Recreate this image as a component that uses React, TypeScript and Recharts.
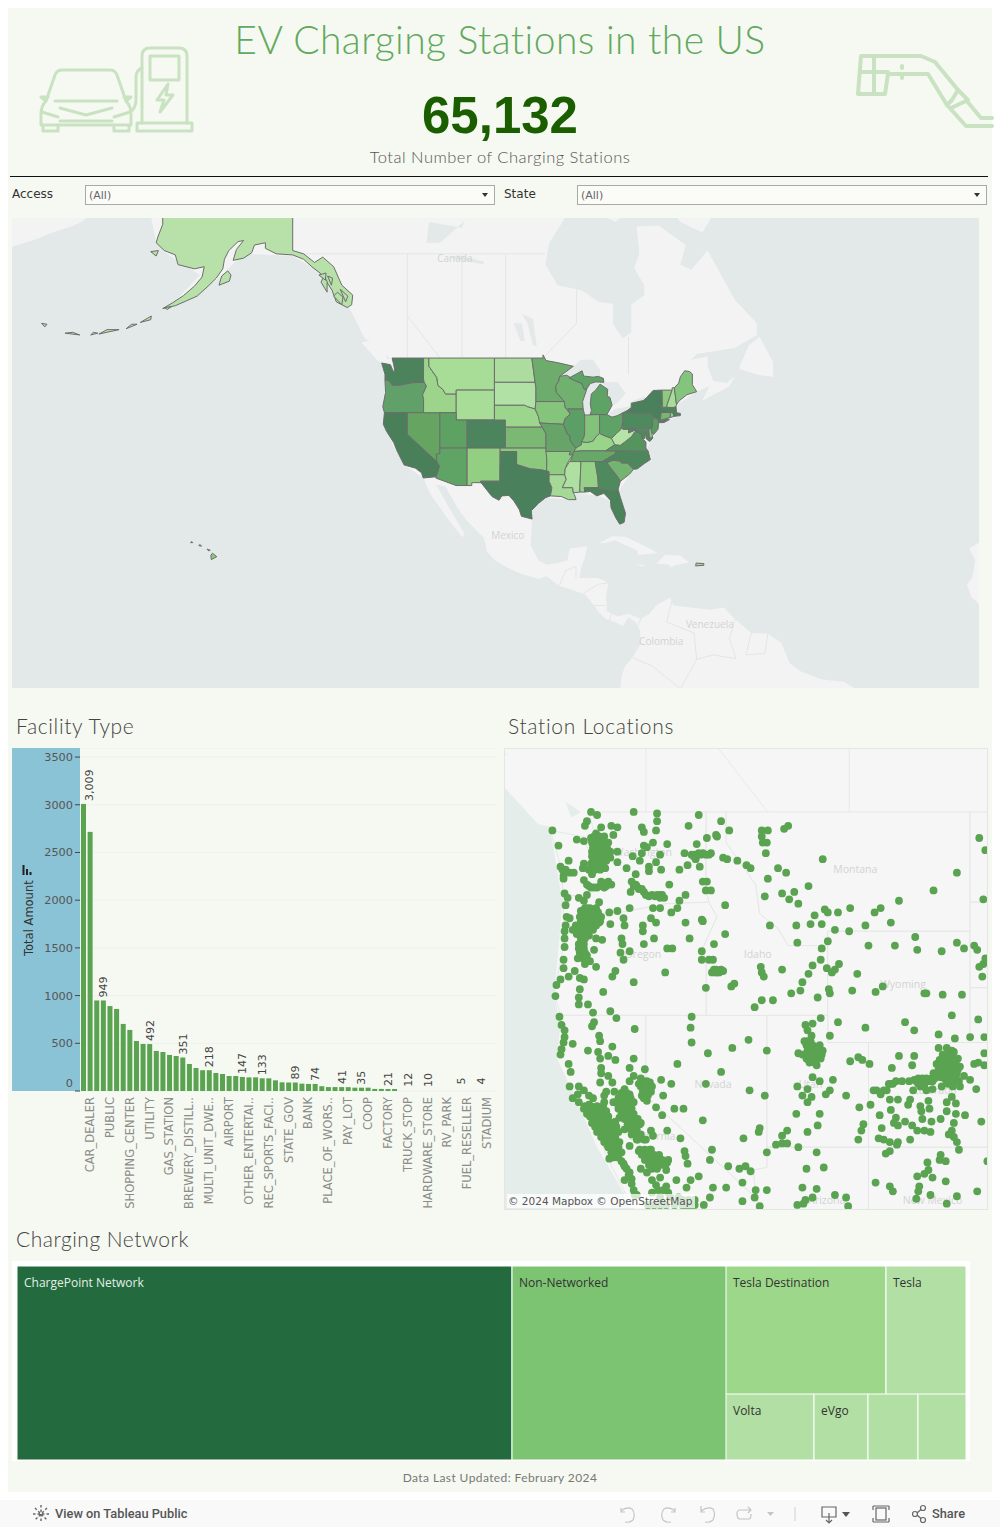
import React from 'react';
import {
  Bar,
  BarChart,
  CartesianGrid,
  LabelList,
  Scatter,
  ScatterChart,
  Treemap,
  XAxis,
  YAxis,
} from 'recharts';

type Ring = number[][];

// facility types, sorted by amount; only every third one gets a tick label
const facilityNames = [
  'HOTEL', 'CAR_DEALER', 'OFFICE_BLDG', 'PARKING_GARAGE', 'PUBLIC', 'MUNI_GOV', 'GROCERY', 'SHOPPING_CENTER', 'WORKPLACE',
  'PARKING_LOT', 'UTILITY', 'COLLEGE_CAMPUS', 'HOSPITAL', 'GAS_STATION', 'RETAIL', 'CONVENIENCE_STORE',
  'BREWERY_DISTILL..', 'LIBRARY', 'PARK', 'MULTI_UNIT_DWE..', 'RESTAURANT', 'SCHOOL', 'AIRPORT', 'FED_GOV', 'OTHER',
  'OTHER_ENTERTAI..', 'STREET_PARKING', 'MUSEUM', 'REC_SPORTS_FACI..', 'FLEET_GARAGE', 'INN', 'STATE_GOV', 'NATL_PARK',
  'CAMPGROUND', 'BANK', 'SHOPPING_MALL', 'REST_STOP', 'PLACE_OF_WORS..', 'TRAVEL_CENTER', 'PHARMACY', 'PAY_LOT', 'B_AND_B',
  'AUTO_REPAIR', 'COOP', 'CONVENTION_CENTER', 'CARWASH', 'FACTORY', 'PAY_GARAGE', 'STORAGE', 'TRUCK_STOP', 'ARENA',
  'TNC', 'HARDWARE_STORE', 'MIL_BASE', 'PRISON', 'RV_PARK', 'MOTOR_POOL', 'REFINERY', 'FUEL_RESELLER',
  'FIRE_STATION', 'RENTAL_CAR_RETURN', 'STADIUM', 'RESEARCH_FACILITY',
];
const facilityAmounts = [
  3009, 2716, 949, 949, 890, 860, 703, 640, 524, 493, 492, 420, 409, 378, 367, 351, 283, 241, 218, 218, 189, 178, 157, 157,
  147, 143, 143, 133, 133, 112, 91, 89, 89, 77, 74, 74, 50, 41, 41, 41, 40, 35, 35, 35, 22, 22, 21, 21, 12, 12, 12, 10, 10,
  10, 8, 5, 5, 5, 5, 4, 4, 4, 3,
];
const facilityTicks = [
  'CAR_DEALER', 'PUBLIC', 'SHOPPING_CENTER', 'UTILITY', 'GAS_STATION', 'BREWERY_DISTILL..', 'MULTI_UNIT_DWE..', 'AIRPORT',
  'OTHER_ENTERTAI..', 'REC_SPORTS_FACI..', 'STATE_GOV', 'BANK', 'PLACE_OF_WORS..', 'PAY_LOT', 'COOP', 'FACTORY',
  'TRUCK_STOP', 'HARDWARE_STORE', 'RV_PARK', 'FUEL_RESELLER', 'STADIUM',
];
const labelledBars = [0, 3, 10, 15, 19, 24, 27, 32, 35, 39, 42, 46, 49, 52, 57, 60];
const amountTicks = [0, 500, 1000, 1500, 2000, 2500, 3000, 3500];

const networkMain = [
  { name: 'ChargePoint Network', size: 33870 },
  { name: 'Non-Networked', size: 14600 },
];
const networkTesla = [
  { name: 'Tesla Destination', size: 7240 },
  { name: 'Tesla', size: 3620 },
];
const networkSmall = [
  { name: 'Volta', size: 2000 },
  { name: 'eVgo', size: 1220 },
  { name: 'Blink Network', size: 1130 },
  { name: 'EV Connect', size: 1100 },
];

// state outlines, lon/lat
const stateShapes: Record<string, Ring> = {
  WA: [[-124.7,48.4],[-123.1,48.2],[-122.6,47.4],[-122.3,47.4],[-122.5,48.2],[-122.8,49],[-117.03,49],[-117.04,46.4],[-116.9,46],[-119,45.95],[-121.2,45.65],[-122.7,45.6],[-123.4,46.2],[-124.1,46.3],[-124.1,47]],
  OR: [[-124.1,46.3],[-123.4,46.2],[-122.7,45.6],[-121.2,45.65],[-119,45.95],[-116.9,46],[-116.5,45.5],[-117.2,44.4],[-117.03,43.8],[-117.03,42],[-124.2,42],[-124.5,42.8],[-124,44.7]],
  CA: [[-124.2,42],[-120,42],[-120,39],[-114.6,35],[-114.1,34.3],[-114.7,32.7],[-117.1,32.5],[-117.4,33.3],[-118.5,34],[-120.6,34.5],[-121.9,36.6],[-122.5,37.8],[-123.8,39.4],[-124.4,40.4]],
  NV: [[-120,42],[-114.04,42],[-114.04,36.2],[-114.7,36.1],[-114.6,35],[-120,39]],
  ID: [[-117.03,49],[-116.05,49],[-116.05,48],[-114.6,46.6],[-114.4,45.6],[-113.5,45.1],[-113,44.5],[-111.05,44.5],[-111.05,42],[-117.03,42],[-117.03,43.8],[-117.2,44.4],[-116.5,45.5],[-116.9,46],[-117.04,46.4]],
  MT: [[-116.05,49],[-104.05,49],[-104.05,45],[-111.05,45],[-111.05,44.5],[-113,44.5],[-113.5,45.1],[-114.4,45.6],[-114.6,46.6],[-116.05,48]],
  WY: [[-111.05,45],[-104.05,45],[-104.05,41],[-111.05,41]],
  UT: [[-114.04,42],[-111.05,42],[-111.05,41],[-109.05,41],[-109.05,37],[-114.04,37]],
  CO: [[-109.05,41],[-102.05,41],[-102.05,37],[-109.05,37]],
  AZ: [[-114.7,36.1],[-114.04,36.2],[-114.04,37],[-109.05,37],[-109.05,31.33],[-111.07,31.33],[-114.8,32.5],[-114.7,32.7],[-114.1,34.3],[-114.6,35]],
  NM: [[-109.05,37],[-103,37],[-103.05,32],[-106.6,32],[-106.5,31.78],[-108.2,31.78],[-108.2,31.33],[-109.05,31.33]],
  ND: [[-104.05,49],[-97.2,49],[-96.6,46],[-104.05,46]],
  SD: [[-104.05,46],[-96.6,46],[-96.45,45.3],[-96.45,43.5],[-96.6,42.5],[-98,42.8],[-98.5,43],[-104.05,43]],
  NE: [[-104.05,43],[-98.5,43],[-98,42.8],[-96.6,42.5],[-96,41.5],[-95.3,40],[-102.05,40],[-102.05,41],[-104.05,41]],
  KS: [[-102.05,40],[-95.3,40],[-94.62,39.1],[-94.62,37],[-102.05,37]],
  OK: [[-103,37],[-94.62,37],[-94.45,35.4],[-94.48,33.6],[-96,33.8],[-97.5,33.9],[-100,34.56],[-100,36.5],[-103,36.5]],
  TX: [[-106.6,32],[-103.05,32],[-103,36.5],[-100,36.5],[-100,34.56],[-97.5,33.9],[-96,33.8],[-94.48,33.6],[-94.04,33.5],[-94.04,32],[-93.52,31],[-93.8,29.7],[-94.7,29.4],[-96,28.5],[-97.3,27.3],[-97.15,25.95],[-99.1,26.4],[-99.5,27.5],[-100.5,28.9],[-101.4,29.77],[-102.7,29.7],[-103.2,29],[-104.5,29.6],[-106.5,31.78]],
  MN: [[-97.2,49],[-95.15,49],[-95.15,49.38],[-94.6,48.7],[-92.5,48.45],[-89.6,48],[-92.1,46.75],[-92.3,46.1],[-92.8,45.6],[-92.75,44.75],[-91.25,43.5],[-96.45,43.5],[-96.45,45.3],[-96.6,46]],
  IA: [[-96.45,43.5],[-91.25,43.5],[-91.1,42.7],[-90.15,41.8],[-91.1,41.2],[-91.4,40.4],[-95.77,40.58],[-96,41.5],[-96.6,42.5]],
  MO: [[-95.77,40.58],[-91.4,40.4],[-90.7,39],[-90.2,38.8],[-90.2,38.2],[-89.5,37.3],[-89.1,37],[-89.5,36.5],[-89.7,36],[-90.37,36],[-90.15,36.5],[-94.62,36.5],[-94.62,39.1],[-95.3,40]],
  AR: [[-94.62,36.5],[-90.15,36.5],[-90.37,36],[-89.7,36],[-90.6,34.9],[-91.1,33.9],[-91.17,33],[-94.04,33],[-94.04,33.5],[-94.48,33.6],[-94.45,35.4]],
  LA: [[-94.04,33],[-91.17,33],[-90.9,32.3],[-91.6,31],[-89.73,31],[-89.6,30.2],[-89.4,29.9],[-89.1,29.1],[-90.5,29.1],[-91.8,29.6],[-93.8,29.7],[-93.52,31],[-94.04,32]],
  WI: [[-92.1,46.75],[-90.8,46.9],[-89,46.1],[-88.1,45.9],[-87.6,45.1],[-87.1,45.2],[-87.9,43.5],[-87.8,42.5],[-90.64,42.5],[-91.1,42.7],[-91.25,43.5],[-92.75,44.75],[-92.8,45.6],[-92.3,46.1]],
  IL: [[-90.64,42.5],[-87.8,42.5],[-87.53,41.7],[-87.53,39.3],[-87.6,38.7],[-88.1,37.5],[-89.1,37],[-89.5,37.3],[-90.2,38.2],[-90.2,38.8],[-90.7,39],[-91.4,40.4],[-91.1,41.2],[-90.15,41.8]],
  IN: [[-87.53,41.7],[-87,41.7],[-84.8,41.75],[-84.8,39.1],[-85.4,38.7],[-86,38],[-87.1,37.8],[-88.1,37.9],[-87.6,38.7],[-87.53,39.3]],
  MI: [[-86.5,41.76],[-84.8,41.75],[-83.45,41.73],[-82.5,43],[-82.9,44.05],[-83.4,44.2],[-83.3,45.1],[-84.7,45.78],[-85.5,45],[-86.3,44.5],[-86.5,43.2],[-86.3,42.3]],
  MIU: [[-90.4,46.55],[-88.9,47.1],[-88,47.45],[-87.7,46.8],[-86,46.65],[-85,46.75],[-84.1,46.5],[-84,46],[-85.5,46.05],[-86.5,45.85],[-87.1,45.2],[-87.6,45.1],[-88.1,45.9],[-89,46.1]],
  OH: [[-84.8,41.75],[-83.45,41.73],[-82.5,41.4],[-81.5,41.6],[-80.52,42],[-80.52,40.64],[-80.85,39.7],[-81.7,39.1],[-82.6,38.4],[-84,38.8],[-84.8,39.1]],
  KY: [[-89.5,36.5],[-89.1,37],[-88.1,37.5],[-88.1,37.9],[-87.1,37.8],[-86,38],[-85.4,38.7],[-84.8,39.1],[-84,38.8],[-82.6,38.4],[-82,37.5],[-83.68,36.6],[-88,36.6]],
  TN: [[-90.15,35],[-89.7,36],[-89.5,36.5],[-88,36.6],[-83.68,36.6],[-81.68,36.59],[-82,36.1],[-84.3,35],[-88.2,35]],
  MS: [[-91.17,33],[-91.1,33.9],[-90.3,35],[-88.2,35],[-88.4,31],[-88.4,30.3],[-89.6,30.2],[-89.73,31],[-91.6,31],[-90.9,32.3]],
  AL: [[-88.2,35],[-85.6,35],[-85.1,32.5],[-85,31],[-87.6,31],[-87.5,30.3],[-88.4,30.3],[-88.4,31]],
  GA: [[-85.6,35],[-83.1,35],[-83.35,34.7],[-81.4,32.6],[-81,32],[-81.4,30.7],[-82,30.4],[-84.85,30.7],[-85,31],[-85.1,32.5]],
  FL: [[-87.6,31],[-85,31],[-84.85,30.7],[-82,30.4],[-81.4,30.7],[-81,29.5],[-80.05,26.9],[-80.3,25.4],[-81.1,25.1],[-81.8,26.1],[-82.7,27.8],[-82.8,29],[-84,30.1],[-85.3,29.7],[-86.5,30.4],[-87.5,30.3]],
  SC: [[-83.35,34.7],[-83.1,35],[-82.4,35.2],[-81,35.1],[-80.8,34.8],[-79.7,34.8],[-78.55,33.85],[-79.3,33.1],[-80.9,32.05],[-81,32],[-81.4,32.6]],
  NC: [[-84.3,35],[-82,36.1],[-81.68,36.59],[-75.9,36.55],[-75.5,35.3],[-76.6,34.7],[-77.9,33.9],[-78.55,33.85],[-79.7,34.8],[-80.8,34.8],[-81,35.1],[-82.4,35.2],[-83.1,35]],
  VA: [[-83.68,36.6],[-81.68,36.59],[-75.9,36.55],[-76.3,37],[-76.3,37.9],[-77,38.4],[-77.05,38.85],[-77.7,39.3],[-78.3,39.4],[-78.9,38.7],[-80,38],[-81,37.4],[-82,37.5]],
  WV: [[-82.6,38.4],[-81.7,39.1],[-80.85,39.7],[-80.52,40.64],[-80.52,39.72],[-79.48,39.72],[-79.48,39.2],[-78.3,39.6],[-77.72,39.32],[-78.3,39.4],[-78.9,38.7],[-80,38],[-81,37.4],[-82,37.5]],
  PA: [[-80.52,42],[-79.76,42.27],[-79.76,42],[-75.35,42],[-74.7,41.36],[-75.1,40.9],[-75.1,40],[-75.4,39.8],[-80.52,39.72],[-80.52,40.64]],
  NY: [[-79.76,42.27],[-79,42.7],[-79,43.27],[-76.8,43.63],[-76.2,44],[-75,44.95],[-73.35,45],[-73.3,43.6],[-73.5,42],[-73.65,41],[-74,40.75],[-74,41],[-74.7,41.36],[-75.35,42],[-79.76,42]],
  NYL: [[-74,40.6],[-73.7,40.9],[-72.3,41.15],[-72,41.05],[-73,40.65]],
  NJ: [[-74.7,41.36],[-74,41],[-74,40.5],[-74.1,39.7],[-74.9,38.95],[-75.5,39.5],[-75.1,40],[-75.1,40.9]],
  DE: [[-75.8,39.72],[-75.4,39.8],[-75.05,38.45],[-75.7,38.46]],
  MD: [[-79.48,39.72],[-75.8,39.72],[-75.7,38.46],[-75.05,38.45],[-75.6,37.95],[-76.2,38.3],[-76.4,39.2],[-76.5,38.4],[-77,38.4],[-77.05,38.85],[-77.7,39.3],[-78.3,39.6],[-79.48,39.2]],
  CT: [[-73.5,42.05],[-71.8,42.02],[-71.85,41.32],[-73.65,41]],
  RI: [[-71.8,42.02],[-71.38,42.02],[-71.15,41.5],[-71.85,41.32]],
  MA: [[-73.5,42.05],[-73.27,42.75],[-71.3,42.7],[-70.8,42.85],[-70.7,42],[-70,41.9],[-70,41.6],[-71.15,41.5],[-71.38,42.02]],
  VT: [[-73.35,45],[-71.5,45],[-72.45,43],[-72.45,42.73],[-73.27,42.75],[-73.3,43.6]],
  NH: [[-71.5,45.3],[-71.1,45.3],[-70.7,43.1],[-70.8,42.85],[-71.3,42.7],[-72.45,42.73],[-72.45,43],[-71.5,45]],
  ME: [[-71.1,45.3],[-70.3,45.9],[-70,46.7],[-69.2,47.45],[-68.3,47.35],[-67.8,47.05],[-67.8,45.7],[-67,44.8],[-68.8,44.4],[-70.2,43.6],[-70.7,43.1]],
  AK: [[-164.8,62.6],[-165.7,61.5],[-166,61],[-164.5,60.3],[-162.5,59.9],[-162,59],[-159,58.6],[-157.2,58.8],[-157.6,57.8],[-159,56.9],[-161,55.95],[-163,55.2],[-164.8,54.6],[-162.5,54.9],[-160.5,55.4],[-158.5,55.9],[-156.5,56.9],[-155,57.7],[-153.8,58.6],[-153.5,59.5],[-152.7,60.3],[-151,61.1],[-150,61.2],[-151.3,60.4],[-151.9,59.4],[-150,59.6],[-148.5,60.1],[-148,60.8],[-146,61],[-146,60.5],[-144,60],[-141,59.9],[-139,59.5],[-137.5,58.8],[-136,58.2],[-135,57.5],[-133.8,56.5],[-133,55.3],[-131,54.7],[-130.2,55],[-130,56],[-132,57],[-133.5,58.8],[-135.5,59.7],[-137,59.2],[-139,60],[-141,60.3],[-141,72],[-165,72]],
  AKK: [[-154.5,57],[-152.6,57.4],[-152.3,58],[-152.9,58.4],[-154,57.9]],
  AKN: [[-167,60.2],[-166,59.8],[-165.6,60.3]],
  AKW: [[-133.5,55.9],[-132,55],[-131.8,55.8],[-132.8,56.3]],
  AKB: [[-135.8,57.3],[-134.7,56.3],[-134.7,57.4],[-135.3,57.9]],
  AKC: [[-136.2,58],[-135,57.5],[-134.9,58.2]],
  AKZ: [[-134.6,57.9],[-133.9,57],[-133.7,57.7]],
  AKR: [[-132.3,56.6],[-131.3,55.3],[-130.9,55.9]],
  AK0: [[-164.5,54.7],[-163.2,54.8],[-164,54.5]],
  AK1: [[-166.9,53.8],[-168.9,53.1],[-167,53.4]],
  AK2: [[-169.5,52.9],[-171.5,52.4],[-170.5,52.9]],
  AK3: [[-172.8,52.3],[-176.5,51.8],[-175,52.3]],
  AK4: [[-176.7,51.9],[-178,51.7],[-177.5,52]],
  AK5: [[-180,51.7],[-182.7,51.9],[-181.3,52]],
  AK6: [[-186,52.9],[-187,53],[-186.4,52.6]],
  HI: [[-155.9,19.1],[-154.9,19.6],[-155.7,20.2],[-156,19.8]],
  HI2: [[-156.7,20.9],[-156.1,20.7],[-156.4,20.6]],
  HI3: [[-158.2,21.5],[-157.7,21.4],[-158,21.7]],
  HI4: [[-159.7,22],[-159.3,22],[-159.5,22.2]],
  PR: [[-67.2,18],[-65.7,18.1],[-65.7,18.4],[-67.1,18.5]],
};
const akGreen = '#b7e1a8';
const stateColors: Record<string, string> = {
  WA: '#4c825c', OR: '#62a06a', CA: '#4a8059', NV: '#66a561', ID: '#9bd48a', MT: '#a8dd98', WY: '#a8dd98', UT: '#5ea263',
  CO: '#4c855d', AZ: '#5fa365', NM: '#92cf82', ND: '#addd9e', SD: '#b2e1a5', NE: '#9cd68d', KS: '#7ab874', OK: '#8ac97e',
  TX: '#4a805b', MN: '#6dac6c', IA: '#85c47b', MO: '#66a567', AR: '#8fcd83', LA: '#a5da96', WI: '#71b16f', IL: '#5c9f66',
  IN: '#83c27a', OH: '#5ea265', MI: '#5fa266', MIU: '#5fa266', KY: '#99d48b', TN: '#67a768', MS: '#aee0a2', AL: '#97d188',
  GA: '#4f8a5e', FL: '#4a825a', SC: '#74b370', NC: '#4e875b', VA: '#55935f', WV: '#b6e4a6', PA: '#4f8a5e', NY: '#4a805b', NYL: '#4a805b',
  NJ: '#5a9b62', DE: '#8ec880', MD: '#4f8a5c', CT: '#78b772', RI: '#93d088', MA: '#4b835b', VT: '#8cca80', NH: '#a8dd98',
  ME: '#85c47c', AK: akGreen, AKK: akGreen, AKN: akGreen, AKW: akGreen, AKB: akGreen, AKC: akGreen, AKZ: akGreen, AKR: akGreen,
  AK0: akGreen, AK1: akGreen, AK2: akGreen, AK3: akGreen, AK4: akGreen, AK5: akGreen, AK6: akGreen,
  HI: '#8ac97e', HI2: '#8ac97e', HI3: '#8ac97e', HI4: '#8ac97e', PR: '#a5d596',
};

// base map land and water, lon/lat
const landShapes: Ring[] = [
  [[-168,72],[-168,65.5],[-166,61],[-164,60],[-158,58],[-164,54.5],[-155,57.5],[-150,60],[-141,59.8],[-135,58],[-131,55],[-130,54],[-128,51.5],[-125.5,50],[-123.2,49],[-124.7,48.4],[-124.1,46],[-124.5,42.8],[-123.8,39.5],[-122.4,37],[-120.6,34.5],[-117.1,32.5],[-115.8,30],[-114,27.8],[-112.2,25.5],[-109.9,22.9],[-109.5,23.5],[-111,25.8],[-112.8,28.5],[-114.7,31.5],[-113,31.2],[-111,28],[-109.2,25.8],[-106,22.8],[-105.4,20.5],[-104,19],[-101.5,17.6],[-99,16.6],[-96,15.7],[-94.5,16.2],[-92.2,14.5],[-90,13.8],[-87.5,13],[-85.8,11],[-85,9.8],[-83.6,8.5],[-82.5,8.2],[-80.5,7.3],[-79.5,8.8],[-78.2,8],[-77.4,6.5],[-77.3,4],[-78.8,1.5],[-80.1,0],[-80.8,-2],[-81,-4.5],[-81,-8],[-35,-8],[-35,-5.3],[-37,-4.8],[-40,-2.9],[-44,-2.5],[-48,-1],[-50,0.5],[-51.5,4.2],[-54,5.9],[-57,6],[-60,8.5],[-62,10.6],[-64.5,10.2],[-68,10.6],[-71.3,11],[-71.8,12.4],[-74.5,11],[-75.6,9.5],[-77.2,8.6],[-79.5,9.5],[-81.5,9],[-83.5,10],[-83.6,12.5],[-83.2,15],[-85,15.9],[-88.5,15.9],[-88.2,17.5],[-87.5,19.5],[-87,21.4],[-90.3,21],[-90.7,19],[-92,18.6],[-94.5,18.2],[-96,19],[-97.4,21.5],[-97.2,25],[-97.4,27.5],[-94.7,29.4],[-90,29.1],[-89,30.2],[-85,29.7],[-83,29],[-82,26],[-81,25.1],[-80.1,26],[-81.3,30.5],[-79,33.3],[-76,35],[-76,37],[-74,40.3],[-70.5,41.5],[-70.8,43],[-67,44.8],[-64.7,45.5],[-66,43.6],[-61,45.5],[-60,46.8],[-61.5,45.9],[-64,46.2],[-65,48],[-65,49.2],[-68,48.8],[-71,46.9],[-67,49.5],[-60,50.2],[-56,51.7],[-56,53],[-60,55.5],[-62,57.5],[-65,60.3],[-68,58.5],[-70,59],[-69,60.8],[-74,62.5],[-78,62.4],[-77.5,60],[-78.5,58.7],[-76.6,57],[-76.6,56],[-79,55],[-79,52],[-80.5,51.3],[-82.3,52.9],[-82.3,55.1],[-85,55.3],[-88,56.5],[-92.5,57],[-94.7,59],[-94,61],[-92,62.5],[-90,64],[-90,80],[-168,80]],
  [[-128.4,50.8],[-125.3,48.6],[-123.4,48.35],[-124,49.4],[-125.6,50.4],[-127.5,51]],
  [[-72,64],[-70,62.8],[-66,61.9],[-64.5,63],[-65,66],[-72,66]],
  [[-84,64],[-80.5,63.2],[-82,62.8],[-85,63.5]],
  [[-195,60.2],[-188,61.3],[-185,61.9],[-181,62.5],[-179,63],[-179,70],[-195,70]],
  [[-84.9,21.9],[-82.5,23.1],[-80,23],[-75,20.7],[-74.2,20.2],[-77.7,19.9],[-78,20.7],[-81,22],[-82,22.4],[-84,21.9]],
  [[-74.4,18.4],[-72.8,19.9],[-70,19.8],[-68.4,18.6],[-71,18.1],[-71.7,17.7],[-72,18.2]],
  [[-78.3,18.3],[-76.3,18.1],[-77,17.9]],
  [[-59.3,47.7],[-55.5,46.9],[-53,46.7],[-53,48.5],[-55.5,51.5],[-57.5,50.5]],
  [[-17.1,21],[-16,19],[-16.5,16],[-17.5,14.7],[-16.7,12.5],[-15,11],[-13,9],[-10,10],[-10,25]],
];
const waterShapes: Ring[] = [
  [[-92,46.7],[-89.5,48],[-88.2,48.8],[-86,48.8],[-84.7,47.5],[-84.7,46.5],[-86.5,46.5],[-88,47.3],[-90.5,46.6]],
  [[-87.8,42],[-86.5,41.7],[-86.3,43.5],[-85.5,45],[-84.9,45.9],[-87,45.9],[-87.9,44.5]],
  [[-84.5,46],[-81.5,46],[-80,44.6],[-81.7,43.2],[-82.5,43],[-83.5,44],[-83.4,45.2]],
  [[-83.4,41.7],[-82,42.5],[-79,42.9],[-80,42],[-81.5,41.5]],
  [[-79.7,43.3],[-76.5,44.2],[-76.2,43.5],[-78,43.3]],
  [[-99,54],[-97,53.5],[-96.3,50.5],[-97,50.5],[-98,53]],
  [[-100.5,53],[-99,53],[-98.5,51],[-99.3,51]],
  [[-116,62.8],[-110,62.3],[-109.5,62.9],[-114,61],[-116.5,61]],
  [[-112,59.6],[-106,59],[-106,59.3],[-111,59.9]],
];
const borderLines: Ring[] = [
  [[-120,49],[-120,60]],
  [[-110,49],[-110,60]],
  [[-102,49],[-102,60]],
  [[-141,60],[-94.7,60]],
  [[-95.15,49],[-89,53],[-89,57]],
  [[-79.5,47],[-79.5,51.5]],
  [[-120,53.8],[-114,49]],
  [[-92.2,14.5],[-91,17.2],[-89.1,17.9],[-89.1,15.9]],
  [[-87.7,13.2],[-85,14.8],[-83.2,15]],
  [[-85.8,11],[-83.7,11]],
  [[-83,8.3],[-82.6,9.5]],
  [[-77.2,8.6],[-77.8,7.2]],
  [[-71.5,12],[-72.5,8],[-67.5,6],[-67,1.2],[-70,-4.2]],
  [[-60,8.5],[-61,5],[-59.8,1.3],[-64,2],[-67,1.2]],
  [[-57,6],[-58,2],[-54.5,2.3],[-54,5.9]],
  [[-78.8,1.5],[-75.2,0],[-70,-4.2]],
];
const mapLabels = [
  { name: 'Canada', lon: -111.3, lat: 59.2 },
  { name: 'Mexico', lon: -101.6, lat: 22.7 },
  { name: 'Colombia', lon: -73.5, lat: 3.8 },
  { name: 'Venezuela', lon: -64.6, lat: 6.9 },
];
const stationLabels = [
  { name: 'Washington', lon: -120.15, lat: 47.55 },
  { name: 'Montana', lon: -109.7, lat: 47 },
  { name: 'Oregon', lon: -120.15, lat: 44.05 },
  { name: 'Idaho', lon: -114.5, lat: 44.05 },
  { name: 'Wyoming', lon: -107.35, lat: 43 },
  { name: 'Nevada', lon: -116.7, lat: 39.3 },
  { name: 'Utah', lon: -111.9, lat: 39.3 },
  { name: 'Colorado', lon: -105.8, lat: 39.05 },
  { name: 'California', lon: -119.7, lat: 37.3 },
  { name: 'Arizona', lon: -111.1, lat: 34.72 },
  { name: 'New Mexico', lon: -105.9, lat: 34.72 },
];

// station locations, lon/lat
const stationPoints: Ring = [
  [-124.6,48.4],[-124.3,47.9],[-122.7,49],[-122.4,48.9],[-122.9,48.7],[-123,48.55],[-122.2,48.5],[-122.45,48.3],[-123.4,48.1],[-123.05,48.05],[-122.7,48.15],[-122.3,48.1],[-122.05,48],[-122.5,47.9],[-122.25,47.8],[-121.9,47.8],[-122.65,47.7],[-122.3,47.65],[-122.05,47.6],[-122.55,47.5],[-122.25,47.45],[-121.75,47.5],[-122.7,47.3],[-122.35,47.2],[-122,47.15],[-123.05,47.3],[-123.1,47.15],[-122.65,46.95],[-123.05,46.75],[-122.9,46.6],[-122.55,46.5],[-122.2,46.7],[-121.85,46.7],[-122.05,46.5],[-121.7,46.6],
  [-123.8,47.4],[-124.2,47.2],[-124.05,46.9],[-123.75,47],[-123.55,47],[-124.05,46.8],[-121.7,48.55],[-121.4,48.5],[-121.6,48.25],[-121.4,47.7],[-121.4,47.35],[-120.65,47.55],[-120.95,47.15],[-120.5,46.95],[-120.3,47.4],[-120.2,47.65],[-120.1,47.9],[-119.95,47.85],[-119.65,48],[-118.95,47.95],[-119.3,47.6],[-119.5,47.35],[-119.85,47.2],[-119.85,47.05],[-119.25,47.1],[-120.2,48.5],[-120.1,48.35],[-119.5,48.4],[-119.45,48.7],[-119.45,48.95],[-120.6,49],[-117.9,48.55],[-117.4,48.9],[-116.3,48.7],[-115.9,48.4],[-117,48.15],[-116.55,48.25],[-116.5,48.2],[-117.5,47.95],[-118.1,47.65],[-117.6,47.6],[-117.4,47.65],[-117.2,47.65],[-116.8,47.65],[-117.55,47.45],[-117.95,47.25],[-118.35,47.1],[-117.35,47.2],[-116.2,47.5],[-116,47.45],[-115.5,47.4],[-115.05,47.25],[-114.85,47.15],
  [-114.3,48.4],[-114,48.4],[-114.3,48.2],[-114.25,48],[-114.05,48],[-114.1,47.65],[-113.2,48.45],[-113,48.55],[-113.5,47.15],[-113.1,47],[-114,46.8],[-111.3,47.45],[-112,46.55],[-104.7,47],[-103.6,48.15],[-103.3,47.75],[-105.85,46.4],[-103.4,46.1],[-107.55,46.05],[-114.15,46.2],[-113.3,46.3],[-112.7,46.35],[-112.95,46.1],[-112.5,45.95],[-108.45,45.8],[-108.75,45.65],[-109.95,45.8],[-110.55,45.65],[-111.2,45.75],[-111.05,45.65],[-111.7,45.55],[-112.6,45.2],[-111.9,45.25],[-111.35,45.25],[-110.7,45.05],[-110,45],[-109.2,45.2],[-107.95,45.3],[-113.9,45.2],[-112.55,44.6],[-111.05,44.65],[-111.35,44.4],[-111.4,44],
  [-120.7,46.7],[-120.5,46.6],[-120.35,46.45],[-120.75,46.35],[-120.1,46.35],[-119.85,46.2],[-119.55,46.2],[-119.3,46.25],[-119.1,46.15],[-118.85,46.6],[-118.05,46.25],[-118.35,46.05],[-118.45,45.8],[-118.75,45.65],[-117.2,46.7],[-117,46.7],[-117.05,46.4],[-116.8,46.4],[-116.1,45.9],
  [-124,46.3],[-123.85,46.15],[-123.95,45.9],[-123.3,46.15],[-123.05,46.05],[-122.9,46.25],[-122.3,46],[-123.2,45.7],[-122.9,45.8],[-122.8,45.55],[-123.05,45.45],[-122.7,45.45],[-122.9,45.3],[-122.55,45.3],[-123.1,45.2],[-123.4,45],[-123.05,45],[-122.8,44.85],[-122.3,45.3],[-121.75,45.25],[-121.8,45.65],[-121.4,45.7],[-121.1,45.45],[-120.8,45.8],[-121.05,45.2],[-123.9,45.5],[-123.75,45.45],[-123.95,45.2],[-124,45],[-124,44.75],[-124,44.45],[-124.05,44],[-124.05,43.7],[-123.3,44.55],[-123.05,44.55],[-123.35,44.05],[-123.1,44.05],[-122.9,44.15],[-123,43.85],[-122.75,43.95],[-122.45,43.75],[-122.55,44.35],[-122.45,44.75],[-122.15,44.7],[-121.2,44.75],[-121.15,44.55],[-120.8,44.3],[-121.25,44.25],[-121.1,44],[-121.65,43.4],[-121.5,43.6],[-120.6,43.2],[-122.1,42.85],[-123.5,43.6],[-123.8,43.4],[-124.2,43.3],[-124.4,43.1],[-124.45,42.7],[-123.25,43.35],[-123.05,43.3],[-123.25,42.95],[-123.3,42.65],[-123.3,42.4],[-122.85,42.4],[-122.6,42.1],[-121.75,42.15],[-121.45,41.9],
  [-120.15,45.2],[-120.15,45],[-119.75,45.45],[-119.5,45.3],[-119.65,45.8],[-119.3,45.8],[-120.1,44.55],[-119.6,44.75],[-118.95,44.4],[-118.7,44.4],[-118.05,45.3],[-117.25,45.4],[-117.2,45.35],[-117.85,44.75],[-116.1,44.9],[-116.65,44.55],[-117.25,44.3],[-117.25,44],[-116.9,44],[-116.7,44],[-119.05,43.55],[-116.65,43.65],[-116.5,43.55],[-116.3,43.65],[-116.2,43.6],[-117.05,43],[-115.8,43.05],[-115.65,43.15],
  [-114.35,43.75],[-114.3,43.55],[-114.2,43.4],[-113.3,43.65],[-112,43.5],[-111.8,43.8],[-112.3,43.2],[-112.4,42.9],[-112.85,42.8],[-111.55,42.65],[-113.75,42.55],[-114.3,42.55],[-114.65,42.3],
  [-111.1,43.7],[-110.85,43.55],[-110.7,43.65],[-110.5,43.85],[-109.6,43.5],[-111,42.95],[-110.95,42.8],[-109.85,42.9],[-108.7,42.85],[-108.35,43.05],[-109.05,44.5],[-107.75,44.5],[-106.75,44.8],[-106.65,44.35],[-105.45,44.3],[-104.7,44.6],[-104.35,44.4],[-103.85,44.5],[-103.7,44.35],[-103.6,43.75],[-103.4,43.85],[-103.45,43.4],[-103.3,44.05],[-106.3,42.8],[-106.2,42.8],[-105.4,42.75],[-104.45,42.75],[-104.95,42],[-103.65,41.85],[-107.25,41.75],[-106.8,41.45],[-109.2,41.55],[-110.55,41.75],[-110.95,41.25],[-111.4,41.9],[-105.6,41.3],[-104.8,41.15],[-104.05,41.2],[-103.35,41.2],
  [-112.15,41.65],[-111.8,41.7],[-112.05,41.45],[-111.85,41.25],[-112.05,41.05],[-111.9,40.8],[-111.45,40.9],[-112.5,40.6],[-112.2,40.55],[-111.9,40.45],[-111.65,40.4],[-111.45,40.5],[-111.3,40.7],[-112,40.35],[-111.6,40.15],[-114.05,40.7],[-114.95,41.1],[-115.75,40.8],[-116.95,40.6],[-117.75,41.95],[-117.8,41.55],[-117.75,41],
  [-111.8,39.7],[-111.45,39.55],[-110.8,39.6],[-112.55,39.35],[-112.05,39.25],[-112.3,39],[-111.85,38.95],[-112.05,38.75],[-110.95,39.2],[-111.15,39.05],[-110.15,39],[-112.6,38.3],[-111.45,38.3],[-111.55,37.85],[-114.4,37.75],[-114.45,37.6],[-112.05,37.6],[-113.05,37.65],[-113.3,37.45],[-113.6,37.1],[-113.3,37.15],[-113.05,37.15],[-112.5,37],[-114.05,36.8],[-111.6,36.8],[-115.2,37.35],
  [-120.55,41.5],[-118.45,40.2],[-116.3,39.9],[-117.05,39.45],[-114.9,39.2],[-114.15,39],[-117.2,38.05],[-118.6,38.5],[-118.15,38.5],[-119.2,38.25],[-119.5,38.55],[-119.15,39],[-118.75,39.45],[-119.25,39.6],[-119.8,39.5],[-119.7,39.35],[-120.25,39.35],[-119.95,39.2],[-119.95,38.8],[-120.2,39],
  [-124.25,41.95],[-124.15,41.65],[-124,41.45],[-124,41.2],[-124.05,41],[-124.15,40.75],[-124.2,40.55],[-123.6,40.95],[-123.8,40.2],[-123.7,39.9],[-123.75,39.35],[-122.55,41.75],[-122.65,41.6],[-122.3,41.25],[-122.25,41.05],[-121.65,40.85],[-122.85,40.7],[-122.35,40.65],[-122.25,40.4],[-121.85,40.5],[-121.5,40.35],[-120.6,40.4],[-122.2,40.05],[-120.8,40.05],[-120.05,40],[-122.2,39.85],[-121.85,39.75],[-121.65,39.5],[-122.25,39.5],[-120.8,39.55],[-120.6,39.75],[-120.25,39.65],
  [-123.3,39.35],[-123.35,39.05],[-123.6,38.9],[-123.3,38.75],[-123.05,39.2],[-122.8,39],[-122.6,38.9],[-123.05,38.5],[-122.8,38.65],[-122.9,38.3],[-122.55,38.5],[-122.55,38.15],[-122.3,38.35],[-122.65,37.95],[-122.3,38],[-122.05,38.2],[-122.05,37.85],[-121.85,38],[-121.65,37.75],[-122.35,37.65],[-122.05,37.5],[-121.75,37.45],[-121.9,37.1],[-121.65,37.05],[-121.3,36.8],[-121.8,36.55],[-122.05,38.75],[-122.05,39],[-121.95,39.15],[-121.55,39.15],[-121.6,38.75],[-121.05,39.25],[-120.8,39.05],[-121.15,38.95],[-120.6,38.75],[-121.2,38.7],[-121.1,38.45],[-120.7,38.35],[-121.3,38.15],[-120.8,38.15],[-120.5,38.1],[-120.25,37.95],[-121.05,37.7],[-120.7,37.5],[-120.45,37.3],[-120.8,37.05],[-119.75,37.65],[-119.65,37.45],[-120,37.3],[-118.95,37.65],[-118.3,37.35],[-118.1,36.85],[-118.05,36.65],[-116.75,36.9],[-116.85,36.5],[-117.95,36.35],[-115.95,36.25],[-115.1,36.25],[-115.4,36.15],[-114.85,36.05],
  [-120.35,36.85],[-120,36.75],[-119.75,36.9],[-119.65,36.6],[-119.35,36.55],[-118.95,36.4],[-120.25,36.15],[-119.95,36],[-119.45,36.3],[-119,36.1],[-121.2,36.45],[-121.05,36.25],[-120.8,36],[-121.05,35.7],[-120.7,35.75],[-120.6,35.3],[-119.7,35.7],[-119.3,35.8],[-119.5,35.5],[-119,35.45],[-118.5,35.7],[-117.8,35.7],[-117.4,35.85],[-118,35.4],[-116.7,35.4],[-116.05,35.4],[-115.25,35.6],[-114.6,35.3],[-114.05,35.3],[-114.65,35],[-115.25,34.85],[-116.85,35],[-117.15,34.7],[-114.4,34.65],[-112.55,34.7],[-112.15,34.9],[-112.3,35.4],[-111.6,35.35],[-110.7,35.1],[-110.15,35],[-110.05,34.65],[-112.1,36.15],[-111.25,36.2],[-111.8,35],[-112.25,34.75],
  [-109.95,40.3],[-109.55,40.45],[-109.35,40.35],[-109,40.2],[-107.55,40.5],[-106.8,40.5],[-107.9,40.05],[-106.9,40.15],[-105.6,40.8],[-105.2,40.8],[-104.95,40.7],[-105.55,40.35],[-105.05,40.45],[-104.65,40.4],[-105.7,40.2],[-105.4,40.05],[-105.05,40.1],[-104.55,40.1],[-105.85,39.85],[-105.45,39.85],[-105.15,39.85],[-104.8,39.8],[-105.3,39.65],[-104.95,39.6],[-104.35,39.75],[-104.05,39.6],[-105.45,39.35],[-104.9,39.35],[-104.55,39.35],[-103.75,39.25],[-103.85,40.2],[-103.65,40.25],[-103.35,40.15],[-103.35,40.6],
  [-108.8,39.2],[-108.45,39.05],[-108.05,39.45],[-107.7,39.55],[-107.4,39.55],[-107.05,39.55],[-106.8,39.6],[-106.4,39.65],[-106.05,39.55],[-106.85,39.2],[-106.2,39.2],[-105.9,39.25],[-108,38.85],[-107.6,38.85],[-107,38.85],[-106.1,38.8],[-104.95,38.95],[-105.2,38.75],[-104.75,38.7],[-107.95,38.45],[-107.1,38.65],[-106.5,38.6],[-106.45,38.4],[-106.05,38.5],[-105.2,38.4],[-104.75,38.3],[-104.3,38.25],[-109.5,38.55],[-108.95,38.65],[-108.5,38.25],[-109.3,37.9],[-109.4,37.65],[-109.55,37.3],[-108.4,37.75],[-107.7,38.15],[-107.8,37.95],[-107.6,37.85],[-107.25,38],[-106.9,37.85],[-106.4,38.1],[-105.95,38],[-105.5,38.1],[-104.85,37.95],[-103.5,38],[-106.65,37.65],[-106.3,37.65],[-106,37.6],[-105.1,37.5],[-104.95,37.65],[-104.85,37.4],[-104.7,37.2],[-104.6,36.9],[-108.55,37.35],[-108.3,37.3],[-108,37.2],[-107.6,37.2],[-107.65,37.1],[-107,37.3],[-108,36.85],[-108.2,36.75],
  [-105.5,36.7],[-105.55,36.5],[-105.25,36.45],[-106.15,36.4],[-106.1,36.1],[-106.3,35.95],[-106.65,35.85],[-105.9,35.8],[-105.25,35.65],[-108.7,35.6],[-108,35.45],[-107.85,35.25],[-106.55,35.45],[-106.6,35.25],[-106.7,34.95],[-106,35.1],[-104.7,35.05],[-103.7,35.25],[-105.2,34.75],[-103.2,36.45],
];
// the dense blobs around the metro areas and along the interstates
const stationClusters: Ring = [
  [-122.55,48.2],[-122.3,48.2],[-122.05,48.2],[-122.65,48],[-122.35,48],[-122.1,48],[-121.85,48],[-122.6,47.85],[-122.4,47.85],[-122.15,47.85],[-121.95,47.85],[-122.55,47.7],[-122.35,47.7],[-122.15,47.7],[-121.95,47.7],[-121.75,47.7],[-122.65,47.55],[-122.4,47.55],[-122.2,47.55],[-122,47.55],[-121.8,47.55],[-122.6,47.4],[-122.4,47.4],[-122.15,47.4],[-121.95,47.4],[-122.55,47.25],[-122.3,47.25],[-122.1,47.25],[-122.8,47.1],[-122.5,47.1],[-122.25,47.1],[-122.8,46.55],[-122.7,46.5],[-122.4,46.5],[-122.25,46.55],[-122,46.65],[-121.95,46.55],
  [-123,45.8],[-122.75,45.8],[-122.45,45.8],[-123.1,45.65],[-122.85,45.65],[-122.6,45.65],[-122.35,45.65],[-123.25,45.5],[-122.95,45.5],[-122.7,45.5],[-122.45,45.5],[-122.2,45.5],[-123.2,45.35],[-123,45.35],[-122.75,45.35],[-122.5,45.35],[-122.25,45.35],[-123.45,45.2],[-123.2,45.2],[-122.95,45.2],[-122.7,45.2],[-122.45,45.2],[-123.6,45.05],[-123.3,45.05],[-123.1,45.05],[-122.85,45.05],[-122.6,45.05],[-123.4,44.9],[-123.15,44.9],[-122.9,44.9],[-123.2,44.75],[-123,44.75],[-123.3,44.4],[-123.05,44.4],[-123.25,44.25],[-123,44.25],
  [-123,38.6],[-122.7,38.6],[-122.4,38.6],[-122.1,38.6],[-122.85,38.4],[-122.55,38.4],[-122.25,38.4],[-121.95,38.4],[-122.75,38.2],[-122.45,38.2],[-122.15,38.2],[-121.85,38.2],[-122.6,38],[-122.35,38],[-122.1,38],[-121.8,38],[-121.5,38],[-122.5,37.8],[-122.25,37.8],[-122,37.8],[-121.75,37.8],[-121.45,37.8],[-122.4,37.6],[-122.15,37.6],[-121.9,37.6],[-121.6,37.6],[-121.35,37.6],[-122.2,37.4],[-122,37.4],[-121.75,37.4],[-121.5,37.4],[-122.05,37.2],[-121.8,37.2],[-121.55,37.2],[-121.3,37.2],[-121.85,37],[-121.6,37],[-121.35,37],[-121.7,36.8],[-121.45,36.8],[-121.2,36.8],[-121.6,36.6],[-121.35,36.6],
  [-121.2,39.1],[-120.95,39.1],[-121.35,38.9],[-121.05,38.9],[-120.75,38.9],[-121.4,38.7],[-121.1,38.7],[-120.85,38.7],[-121.35,38.5],[-121.05,38.5],[-120.7,38.5],[-121.2,38.3],[-120.9,38.3],[-120.6,38.3],[-121.05,38.1],[-120.7,38.1],[-120.4,38.1],[-120.9,37.9],[-120.6,37.9],[-120.3,37.9],[-120.75,37.7],[-120.45,37.7],[-120.55,37.5],[-120.25,37.5],[-120.4,37.3],[-120.1,37.3],
  [-120.3,36.9],[-120.05,36.9],[-119.8,36.9],[-120.2,36.7],[-119.9,36.7],[-119.6,36.7],[-119.35,36.7],[-120.05,36.5],[-119.75,36.5],[-119.5,36.5],[-119.2,36.5],[-118.9,36.5],[-119.85,36.3],[-119.6,36.3],[-119.3,36.3],[-119.05,36.3],[-119.7,36.15],[-119.45,36.15],[-121.1,36.35],[-120.95,36.15],[-120.85,35.9],[-120.7,35.55],[-120.45,35.1],[-120.55,35.1],
  [-120.15,39.55],[-119.95,39.55],[-120.35,39.45],[-120.05,39.45],[-120.15,39.15],[-119.75,39.15],[-119.9,39],[-120.1,38.9],[-119.4,35.3],[-119.15,35.3],[-119.7,35.2],[-118.9,35.2],[-119.3,35],[-118.8,35],[-118.4,35],[-118.2,34.9],[-117.9,34.9],[-117.6,34.9],[-118.2,34.7],[-118,34.7],[-117.8,34.7],[-117.6,34.7],[-119.9,34.7],[-119.6,34.7],[-119.3,34.7],[-119,34.7],[-118.6,34.7],
  [-112.2,41.05],[-111.9,41.05],[-112.1,40.9],[-111.8,40.9],[-112.05,40.7],[-111.75,40.7],[-111.5,40.7],[-112.3,40.55],[-112,40.55],[-111.75,40.55],[-111.55,40.55],[-111.35,40.55],[-112.1,40.4],[-111.85,40.4],[-111.6,40.4],[-111.4,40.4],[-111.95,40.25],[-111.7,40.25],
  [-105.05,40.65],[-104.85,40.65],[-105.4,40.55],[-105.15,40.55],[-104.95,40.55],[-105.35,40.3],[-105.15,40.3],[-104.95,40.3],[-104.75,40.3],[-105.55,40.15],[-105.25,40.15],[-105,40.15],[-104.8,40.15],[-105.6,40],[-105.35,40],[-105.1,40],[-104.85,40],[-104.65,40],[-105.6,39.85],[-105.3,39.85],[-105,39.85],[-104.7,39.85],[-105.5,39.7],[-105.25,39.7],[-105,39.7],[-104.75,39.7],[-105.2,39.55],[-104.85,39.55],[-104.6,39.55],[-105.15,39.45],[-104.95,39.45],
  [-106.7,39.55],[-106.6,39.55],[-106.25,39.55],[-105.9,39.55],[-106.6,39.65],[-106.2,39.65],[-105.95,39.65],[-105.8,39.65],[-107.95,39.45],[-107.85,39.45],[-106.6,39.45],[-106.45,39.45],[-108.65,39.2],[-108.3,39.2],[-108.15,39.2],[-106.5,39.35],[-106.3,39.35],
  [-120.6,46.55],[-120.45,46.55],[-120.2,46.45],[-120,46.25],[-119.7,46.25],[-119.45,46.25],[-119.2,46.25],[-119.3,46.15],[-117.75,47.6],[-117.45,47.6],[-117.3,47.6],[-117.05,47.6],[-116.9,47.6],[-117.65,47.55],[-116.75,43.55],[-116.6,43.55],[-116.4,43.55],[-116.55,43.65],[-124.1,47.1],[-123.95,47.1],
];

const mainLayer = 'Lato, "Open Sans", sans-serif';
const dejavu = '"DejaVu Sans", sans-serif';
const waterFill = '#e2e9e8';
const landFill = '#f3f3f3';
const barGreen = '#5aa351';
const networkColors: Record<string, string> = {
  'ChargePoint Network': '#236a3e',
  'Non-Networked': '#7dc472',
  'Tesla Destination': '#9dd88a',
  Tesla: '#b2e0a4',
  Volta: '#b2e0a4',
  eVgo: '#b2e0a4',
  'Blink Network': '#b2e0a4',
  'EV Connect': '#b2e0a4',
};

const facilityRows = facilityNames.map((name, i) => ({ name, amount: facilityAmounts[i] }));

// web mercator northing, in degrees
const mercY = (lat: number) => (Math.log(Math.tan(Math.PI / 4 + (lat * Math.PI) / 360)) * 180) / Math.PI;
const toRows = (ring: Ring) => ring.map(([lon, lat]) => ({ lon, y: mercY(lat) }));

const noDot = () => <g />;

function Polys({ rings, fill, stroke, strokeWidth = 1, closed = true }: any) {
  return rings.map(({ id, ring, color }: any) => (
    <Scatter
      key={id}
      data={toRows(ring)}
      dataKey="y"
      shape={noDot}
      isAnimationActive={false}
      line={{ fill: closed ? color || fill : 'none', stroke, strokeWidth, strokeLinejoin: 'round' }}
      lineJointType={closed ? 'linearClosed' : 'linear'}
    />
  ));
}

const asRings = (list: Ring[], prefix: string) => list.map((ring, i) => ({ id: `${prefix}${i}`, ring }));
const stateRings = (colored: boolean) =>
  Object.keys(stateShapes).map((id) => ({ id, ring: stateShapes[id], color: colored ? stateColors[id] : undefined }));

function PlaceLabels({ labels, size }: any) {
  return (
    <Scatter
      data={labels.map((l: any) => ({ ...l, y: mercY(l.lat) }))}
      dataKey="y"
      isAnimationActive={false}
      shape={(p: any) => (
        <text x={p.cx} y={p.cy} textAnchor="middle" fontFamily='"Open Sans", sans-serif' fontSize={size} fill="#d2d4d4">
          {p.payload.name}
        </text>
      )}
    />
  );
}

function UsMap() {
  return (
    <ScatterChart width={967} height={470} margin={{ top: 0, right: 0, bottom: 0, left: 0 }} style={{ background: waterFill }}>
      <XAxis type="number" dataKey="lon" domain={[-192.41, -15.3]} allowDataOverflow hide />
      <YAxis type="number" dataKey="y" domain={[-4.06, 82.02]} allowDataOverflow hide />
      {Polys({ rings: asRings(landShapes, 'land'), fill: landFill, stroke: 'none' })}
      {Polys({ rings: asRings(waterShapes, 'water'), fill: waterFill, stroke: 'none' })}
      {Polys({ rings: asRings(borderLines, 'border'), stroke: '#e4e5e5', closed: false })}
      {PlaceLabels({ labels: mapLabels, size: 10 })}
      {Polys({ rings: stateRings(true), stroke: '#6d6d6d', strokeWidth: 1 })}
    </ScatterChart>
  );
}

function StationMap() {
  return (
    <ScatterChart width={484} height={462} margin={{ top: 0, right: 0, bottom: 0, left: 0 }} style={{ background: '#e5edeb' }}>
      <XAxis type="number" dataKey="lon" domain={[-126.98, -103.17]} allowDataOverflow hide />
      <YAxis type="number" dataKey="y" domain={[36.79, 59.51]} allowDataOverflow hide />
      {Polys({ rings: asRings(landShapes, 'land'), fill: '#f6f6f6', stroke: 'none' })}
      {Polys({ rings: asRings(borderLines, 'border'), stroke: '#e8e9e9', closed: false })}
      {Polys({ rings: stateRings(false), fill: '#f6f6f6', stroke: '#e6e7e7', strokeWidth: 1 })}
      {PlaceLabels({ labels: stationLabels, size: 10.5 })}
      <Scatter
        data={toRows([...stationPoints, ...stationClusters])}
        dataKey="y"
        isAnimationActive={false}
        shape={(p: any) => <circle cx={p.cx} cy={p.cy} r={3.9} fill={barGreen} />}
      />
    </ScatterChart>
  );
}

const AmountTick = ({ x, y, payload }: any) => (
  <text x={x} y={payload.value === 0 ? y - 8 : y} dy={4} textAnchor="end" fontFamily={dejavu} fontSize={11.3} fill="#555">
    {payload.value}
  </text>
);

const FacilityTick = ({ x, y, payload }: any) => (
  <text
    transform={`rotate(-90 ${x} ${y})`}
    x={x}
    y={y}
    dy={4}
    textAnchor="end"
    fontFamily={dejavu}
    fontSize={11.5}
    fill="#8a8d8a"
  >
    {payload.value}
  </text>
);

const ThinBar = ({ x, y, width, height, fill }: any) =>
  height < 2 ? <g /> : <rect x={x} y={y} width={width} height={height} fill={fill} />;

const BarValue = ({ x, y, width, value, index }: any) => {
  if (!labelledBars.includes(index)) return null;
  const cx = x + width / 2 + (index === 0 ? 6 : 0);
  const top = index > 54 ? y - 6 : y - 3;
  return (
    <text
      transform={`rotate(-90 ${cx} ${top})`}
      x={cx}
      y={top}
      dy={4}
      textAnchor="start"
      fontFamily={dejavu}
      fontSize={11}
      fill="#444"
    >
      {value.toLocaleString('en-US')}
    </text>
  );
};

function FacilityChart() {
  return (
    <BarChart width={486} height={470} data={facilityRows} margin={{ top: 0, right: 1, bottom: 0, left: 0 }}>
      <CartesianGrid vertical={false} stroke="#eef1ec" />
      <XAxis dataKey="name" ticks={facilityTicks} interval={0} height={127} axisLine={false} tickLine={false} tick={FacilityTick} tickMargin={0} />
      <YAxis
        type="number"
        width={68}
        domain={[0, 3595]}
        allowDataOverflow
        ticks={amountTicks}
        axisLine={false}
        tickSize={5}
        tickMargin={2}
        tickLine={{ stroke: '#444' }}
        tick={AmountTick}
      />
      <Bar dataKey="amount" fill={barGreen} barSize={5} shape={ThinBar} isAnimationActive={false}>
        <LabelList dataKey="amount" content={BarValue} />
      </Bar>
    </BarChart>
  );
}

const NetworkCell = ({ x, y, width, height, name, depth }: any) => {
  if (!depth) return <g />;
  const fits = name.length * 6.2 + 14 < width;
  return (
    <g>
      <rect x={x} y={y} width={width} height={height} fill={networkColors[name]} stroke="#fff" strokeWidth={1} />
      {fits && (
        <text x={x + 7} y={y + 21} fontFamily='"Open Sans", sans-serif' fontSize={12} fill={name === 'ChargePoint Network' ? '#e4efe6' : '#333'}>
          {name}
        </text>
      )}
    </g>
  );
};

function NetworkMap({ data, width, height }: any) {
  return (
    <Treemap
      width={width}
      height={height}
      data={data}
      dataKey="size"
      nameKey="name"
      aspectRatio={1}
      isAnimationActive={false}
      content={<NetworkCell />}
    />
  );
}

const box = (left: number, top: number, width: number, height: number, extra: any = {}) => ({
  position: 'absolute' as const,
  left,
  top,
  width,
  height,
  ...extra,
});

function Txt({ x, y, children, size, color, font = mainLayer, weight = 400, center = false, spacing = 0 }: any) {
  return (
    <div
      style={{
        position: 'absolute',
        left: x,
        top: y,
        transform: center ? 'translate(-50%, -50%)' : 'translateY(-50%)',
        whiteSpace: 'nowrap',
        fontFamily: font,
        fontSize: size,
        fontWeight: weight,
        color,
        letterSpacing: spacing,
        lineHeight: 1,
      }}
    >
      {children}
    </div>
  );
}

function Select({ left, width }: any) {
  return (
    <div style={box(left, 185, width, 20, { boxSizing: 'border-box', border: '1px solid #a9a9a9', background: '#fbfcf8' })}>
      <span style={{ position: 'absolute', left: 3, top: 3, fontFamily: dejavu, fontSize: 11, color: '#666' }}>(All)</span>
      <span style={{ position: 'absolute', right: 6, top: 7, width: 0, height: 0, borderLeft: '3px solid transparent', borderRight: '3px solid transparent', borderTop: '4px solid #333' }} />
    </div>
  );
}

function HeaderIcons() {
  const s = { fill: 'none', stroke: '#c9e3c2', strokeWidth: 3, strokeLinejoin: 'round' as const, strokeLinecap: 'round' as const };
  return (
    <svg width={1000} height={176} style={{ position: 'absolute', left: 0, top: 0 }}>
      <g {...s}>
        <path d="M62 70 H110 Q115 70 117 75 L126 101 Q131 106 131 114 V125 H41 V114 Q41 106 46 101 L55 75 Q57 70 62 70 Z" />
        <path d="M55 101 H117 M46 101 L41 97 H48 M126 101 L131 97 H124 M60 108 L86 115 L112 108 M42 112 L58 117 M130 112 L114 117 M60 121 H112" />
        <path d="M43 125 V131 H58 V125 M114 125 V131 H129 V125" />
        <path d="M142 123 V56 Q142 48 150 48 H179 Q187 48 187 56 V123" />
        <rect x="150" y="56" width="29" height="24" />
        <path d="M168 84 L157 100 H164 L160 112 L173 95 H166 L168 84 Z" />
        <rect x="137" y="123" width="55" height="8" />
        <path d="M142 68 Q136 70 136 78 V100 Q136 108 130 112" />
      </g>
      <g {...s} stroke="#c9e3c2" strokeWidth={4}>
        <path d="M861 56 H921 L935 62 L958 90 L952 100 L947 105 L928 74 H888 L885 94 H858 Z" />
        <path d="M874 56 V94 M861 72 H888 M902 66 V68 M902 76 V78" />
        <path d="M958 90 L968 100 L951 108 M966 100 L981 118 H992 M947 105 L966 126 H992" />
      </g>
    </svg>
  );
}

function ToolbarIcons() {
  const s = { fill: 'none', stroke: '#c4c4c4', strokeWidth: 1.2 };
  const d = { fill: 'none', stroke: '#666', strokeWidth: 1.2 };
  return (
    <svg width={1000} height={27} style={{ position: 'absolute', left: 0, top: 1500 }}>
      <path d="M621 8 L621 12 L625 12 M621 11 Q627 6 632 9 Q636 14 633 20 Q630 23 625 22" {...s} />
      <path d="M675 8 L675 12 L671 12 M675 11 Q669 6 664 9 Q660 14 663 20 Q666 23 671 22" {...s} />
      <path d="M701 6 V12 H705 M701 11 Q708 6 713 9 Q716 14 713 20 Q710 23 705 22" {...s} />
      <path d="M750 10 H740 Q737 10 737 14 Q737 19 740 19 H749 Q751 19 751 14 M748 7 L751 10 L748 13" {...s} />
      <path d="M767 12 H774 L770.5 16 Z" fill="#c4c4c4" />
      <path d="M795 7 V21" stroke="#d0d0d0" />
      <path d="M822 7 H836 V17 H822 Z M829 13 V23 M826 20 L829 23 L832 20" {...d} />
      <path d="M842 12 H850 L846 17 Z" fill="#555" />
      <path d="M873 6 H889 M873 22 H889 M873 6 V10 M889 6 V10 M873 22 V18 M889 22 V18" {...d} />
      <rect x="876" y="8" width="10" height="12" {...d} />
      <circle cx="923" cy="8" r="2.5" {...d} />
      <circle cx="915" cy="14" r="2.5" {...d} />
      <circle cx="923" cy="20" r="2.5" {...d} />
      <path d="M917 13 L921 9.5 M917 15 L921 18.5" {...d} />
      <path d="M41 5 V23 M33 14 H49 M35 8 L47 20 M47 8 L35 20" stroke="#666" strokeWidth={1.4} strokeDasharray="2.5 2" />
    </svg>
  );
}

export default function App() {
  return (
    <div style={{ position: 'absolute', left: 0, top: 0, width: 1000, height: 1527, background: '#fff', overflow: 'hidden' }}>
      <div style={box(8, 8, 984, 1484, { background: '#f6f9f1' })} />
      <HeaderIcons />
      <Txt x={500} y={39} size={39} color="#62a95f" weight={300} spacing={0.45} center>EV Charging Stations in the US</Txt>
      <Txt x={500} y={115} size={51} color="#1a5e00" weight={700} font='"Liberation Sans", sans-serif' center>65,132</Txt>
      <Txt x={500} y={157} size={16.5} color="#555" weight={300} spacing={0.5} center>Total Number of Charging Stations</Txt>
      <div style={box(10, 176, 978, 1, { background: '#111' })} />

      <Txt x={12} y={194} size={12} color="#333" font={dejavu}>Access</Txt>
      <Select left={85} width={410} />
      <Txt x={504} y={194} size={12} color="#333" font={dejavu}>State</Txt>
      <Select left={577} width={410} />

      <div style={box(12, 218, 967, 470)}><UsMap /></div>

      <Txt x={16} y={725} size={21} color="#444" weight={300} spacing={0.65}>Facility Type</Txt>
      <Txt x={508} y={725} size={21} color="#444" weight={300} spacing={0.7}>Station Locations</Txt>

      <div style={box(12, 748, 68, 343, { background: '#8bc3d6' })} />
      <div style={box(12, 748, 486, 470)}><FacilityChart /></div>
      <div style={{ position: 'absolute', left: 22, top: 880, height: 76, writingMode: 'vertical-rl', transform: 'rotate(180deg)', fontFamily: dejavu, fontSize: 11.5, color: '#333', whiteSpace: 'nowrap', textAlign: 'center' }}>
        Total Amount
      </div>
      <svg width={12} height={12} style={{ position: 'absolute', left: 22, top: 864 }}>
        <path d="M1.5 1 V11 M5 5 V11 M8.5 8 V11" stroke="#222" strokeWidth={2} />
      </svg>

      <div style={box(504, 748, 484, 462)}><StationMap /></div>
      <div style={box(504, 748, 484, 462, { boxSizing: 'border-box', border: '1px solid #e3e6e3' })} />
      <div style={box(507, 1194, 188, 14, { background: 'rgba(255,255,255,0.75)' })} />
      <Txt x={508} y={1201} size={10.5} color="#555" font={dejavu}>© 2024 Mapbox  © OpenStreetMap</Txt>

      <Txt x={16} y={1238} size={21} color="#444" weight={300} spacing={0.5}>Charging Network</Txt>
      <div style={box(12, 1261, 958, 200, { background: '#fff' })} />
      <div style={box(17, 1266, 709, 194)}><NetworkMap data={networkMain} width={709} height={194} /></div>
      <div style={box(726, 1266, 240, 128)}><NetworkMap data={networkTesla} width={240} height={128} /></div>
      <div style={box(726, 1394, 240, 66)}><NetworkMap data={networkSmall} width={240} height={66} /></div>

      <Txt x={500} y={1478} size={12} color="#777" spacing={0.4} center>Data Last Updated: February 2024</Txt>

      <div style={box(0, 1500, 1000, 27, { background: '#f9f9f9' })} />
      <ToolbarIcons />
      <Txt x={55} y={1514} size={12.8} color="#555" font="Roboto, sans-serif" weight={500}>View on Tableau Public</Txt>
      <Txt x={932} y={1514} size={12.8} color="#555" font="Roboto, sans-serif" weight={500}>Share</Txt>
    </div>
  );
}
